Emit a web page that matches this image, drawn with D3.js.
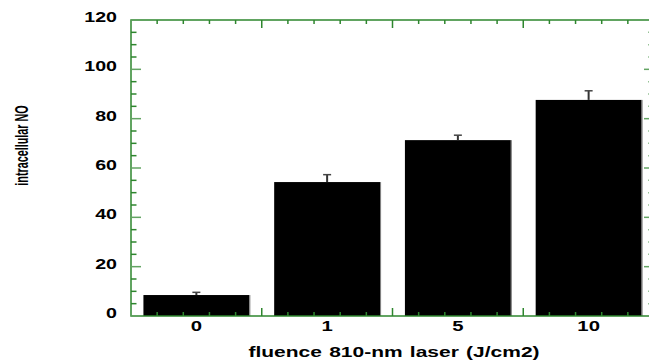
<!DOCTYPE html>
<html>
<head>
<meta charset="utf-8">
<script src="https://cdn.jsdelivr.net/npm/d3@7"></script>
<style>
  html, body { margin: 0; padding: 0; background: #fff; }
  svg { display: block; font-family: "Liberation Sans", Arial, sans-serif; }
</style>
</head>
<body>
<div id="chart"></div>
<script>
// fluence categories and intracellular NO readings
const categories = ['0', '1', '5', '10'];
const values = [8.5, 54.3, 71.3, 87.6];
const errors = [1.1, 3.0, 2.0, 3.7];
const yTicks = [0, 20, 40, 60, 80, 100, 120];

const width = 649, height = 362;
const margin = { top: 20, right: -5, bottom: 46, left: 131 };
const innerW = width - margin.left - margin.right;
const innerH = height - margin.top - margin.bottom;
const stretch = 1.4; // text in the original is drawn wide

const svg = d3.select('#chart')
    .append('svg')
    .attr('width', width)
    .attr('height', height);

const g = svg.append('g')
    .attr('transform', `translate(${margin.left},${margin.top})`);

const x = d3.scaleBand()
    .domain(categories)
    .range([0, innerW])
    .paddingInner(0.19)
    .paddingOuter(0.095);

const band = d3.scaleBand().domain(categories).range([0, innerW]);

const y = d3.scaleLinear()
    .domain([0, 120])
    .range([innerH, 0]);

const green = '#2e862e';
const lightGreen = '#63a463';

// bars
g.selectAll('.bar')
    .data(values)
    .enter()
    .append('rect')
    .attr('class', 'bar')
    .attr('x', (d, i) => x(categories[i]))
    .attr('y', d => y(d))
    .attr('width', x.bandwidth())
    .attr('height', d => innerH - y(d))
    .style('fill', '#000');

// thin grey edge on the right of each bar
g.selectAll('.edge')
    .data(values)
    .enter()
    .append('line')
    .attr('x1', (d, i) => x(categories[i]) + x.bandwidth() + 0.5)
    .attr('x2', (d, i) => x(categories[i]) + x.bandwidth() + 0.5)
    .attr('y1', d => y(d))
    .attr('y2', innerH)
    .style('stroke', '#777')
    .style('stroke-width', 1);

// error bars (upper only)
const err = g.selectAll('.err')
    .data(values)
    .enter()
    .append('g')
    .attr('class', 'err');

err.append('line')
    .attr('x1', (d, i) => x(categories[i]) + x.bandwidth() / 2)
    .attr('x2', (d, i) => x(categories[i]) + x.bandwidth() / 2)
    .attr('y1', d => y(d))
    .attr('y2', (d, i) => y(d + errors[i]))
    .style('stroke', '#333')
    .style('stroke-width', 2);

err.append('line')
    .attr('x1', (d, i) => x(categories[i]) + x.bandwidth() / 2 - 4)
    .attr('x2', (d, i) => x(categories[i]) + x.bandwidth() / 2 + 4)
    .attr('y1', (d, i) => y(d + errors[i]))
    .attr('y2', (d, i) => y(d + errors[i]))
    .style('stroke', '#444')
    .style('stroke-width', 1.5);

// frame
g.append('rect')
    .attr('x', 0)
    .attr('y', 0)
    .attr('width', innerW)
    .attr('height', innerH)
    .style('fill', 'none')
    .style('stroke', green)
    .style('stroke-width', 1.5);

// y ticks (left and right, inward)
const yMinor = d3.range(0, 121, 5);
yMinor.forEach(v => {
    const major = v % 20 === 0;
    const len = major ? 10 : 5.5;
    const col = major ? lightGreen : green;
    g.append('line')
        .attr('x1', 0).attr('x2', len)
        .attr('y1', y(v)).attr('y2', y(v))
        .style('stroke', col).style('stroke-width', 1.5);
    g.append('line')
        .attr('x1', innerW).attr('x2', innerW - len)
        .attr('y1', y(v)).attr('y2', y(v))
        .style('stroke', col).style('stroke-width', 1.5);
});

// x ticks (top and bottom, inward): boundaries major, 5 subdivisions
categories.forEach((c, i) => {
    const x0 = band(c);
    for (let k = 0; k < 5; k++) {
        const xx = x0 + k * band.bandwidth() / 5;
        const major = k === 0;
        if (i === 0 && k === 0) continue;
        const len = major ? 8 : 4;
        g.append('line')
            .attr('x1', xx).attr('x2', xx)
            .attr('y1', 0).attr('y2', len)
            .style('stroke', green).style('stroke-width', 1.5);
        g.append('line')
            .attr('x1', xx).attr('x2', xx)
            .attr('y1', innerH).attr('y2', innerH - len)
            .style('stroke', green).style('stroke-width', 1.5);
    }
});

// y tick labels
g.selectAll('.ylab')
    .data(yTicks)
    .enter()
    .append('text')
    .attr('transform', d => `translate(-14,${y(d) + 2}) scale(${stretch},1)`)
    .attr('text-anchor', 'end')
    .style('font-size', '14px')
    .style('font-weight', 'bold')
    .text(d => d);

// x tick labels
g.selectAll('.xlab')
    .data(categories)
    .enter()
    .append('text')
    .attr('transform', d => `translate(${band(d) + band.bandwidth() / 2},${innerH + 15}) scale(${stretch},1)`)
    .attr('text-anchor', 'middle')
    .style('font-size', '14.5px')
    .style('font-weight', 'bold')
    .text(d => d);

// axis titles
svg.append('text')
    .attr('transform', `translate(394,357) scale(${stretch},1)`)
    .attr('text-anchor', 'middle')
    .style('font-size', '15px')
    .style('font-weight', 'bold')
    .style('word-spacing', '1px')
    .text('fluence 810-nm laser (J/cm2)');

svg.append('text')
    .attr('transform', 'translate(28,145.5) scale(1.65,1) rotate(-90)')
    .attr('text-anchor', 'middle')
    .style('font-size', '10.8px')
    .style('font-weight', 'bold')
    .text('intracellular NO');
</script>
</body>
</html>
